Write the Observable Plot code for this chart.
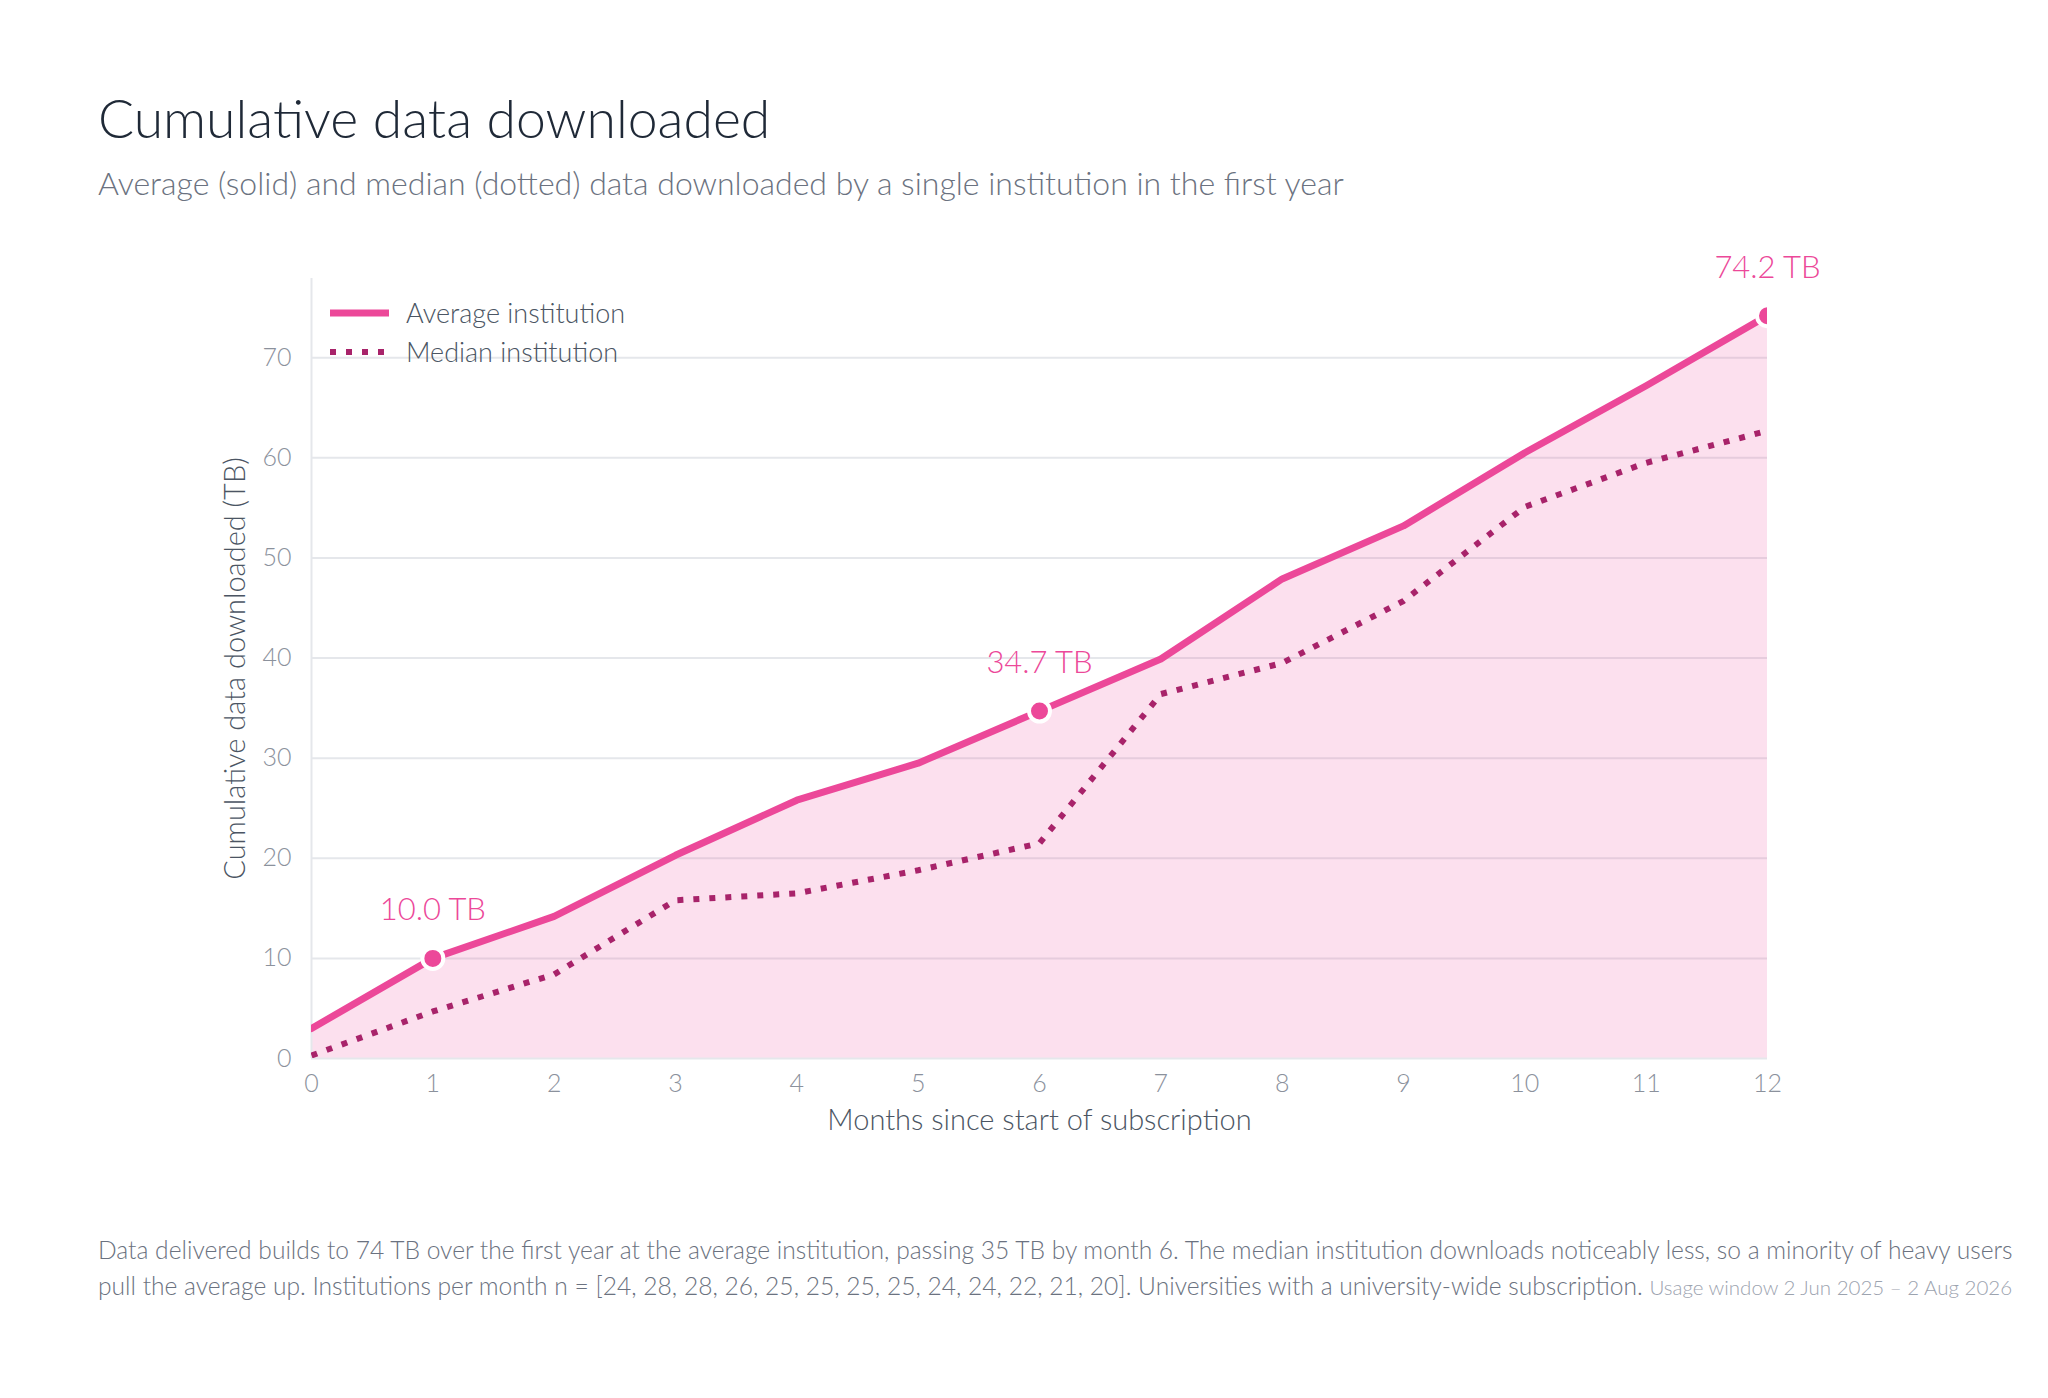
<!DOCTYPE html>
<html>
<head>
<meta charset="utf-8">
<script src="https://cdn.jsdelivr.net/npm/d3@7"></script>
<script src="https://cdn.jsdelivr.net/npm/@observablehq/plot@0.6"></script>
<style>
  html, body { margin: 0; padding: 0; background: #ffffff; }
  body { width: 2048px; height: 1398px; position: relative; overflow: hidden; font-family: Lato, Inter, "Noto Sans", sans-serif; font-weight: 300; }
  .abs { position: absolute; white-space: nowrap; }
  #title { left: 98px; top: 87px; font-size: 53.5px; line-height: 60px; color: #1f2937; }
  #subtitle { left: 98px; top: 166px; font-size: 32px; line-height: 34px; color: #6b7280; }
  #chart { left: 0; top: 230px; }
  #legend { left: 330px; top: 293px; font-size: 27px; color: #4b5563; }
  .lg { display: flex; align-items: center; height: 39px; }
  .lg svg { margin-right: 17px; }
  #caption { left: 98px; top: 1232px; font-size: 24.6px; line-height: 36px; color: #6b7280; }
  #caption .small { font-size: 20.5px; color: #9ca3af; }
</style>
</head>
<body>
<div id="title" class="abs">Cumulative data downloaded</div>
<div id="subtitle" class="abs">Average (solid) and median (dotted) data downloaded by a single institution in the first year</div>
<div id="chart" class="abs"></div>
<div id="legend" class="abs"></div>
<div id="caption" class="abs">Data delivered builds to 74 TB over the first year at the average institution, passing 35 TB by month 6. The median institution downloads noticeably less, so a minority of heavy users<br>pull the average up. Institutions per month n = [24, 28, 28, 26, 25, 25, 25, 25, 24, 24, 22, 21, 20]. Universities with a university-wide subscription. <span class="small">Usage window 2 Jun 2025 – 2 Aug 2026</span></div>
<script>
// ---- data ----
const months = [0, 1, 2, 3, 4, 5, 6, 7, 8, 9, 10, 11, 12];
const averageTB = [3.0, 10.0, 14.2, 20.3, 25.8, 29.5, 34.7, 39.9, 47.9, 53.2, 60.5, 67.2, 74.2];
const medianTB = [0.3, 4.7, 8.4, 15.8, 16.5, 18.8, 21.5, 36.4, 39.5, 45.7, 55.1, 59.5, 62.7];
const highlightMonths = [1, 6, 12];
const yTicks = [0, 10, 20, 30, 40, 50, 60, 70];
const seriesNames = ["Average institution", "Median institution"];

const avgColor = "#ec4899";
const medColor = "#a8236a";
const font = "Lato, Inter, 'Noto Sans', sans-serif";

const avgData = months.map((m, i) => ({month: m, value: averageTB[i]}));
const medData = months.map((m, i) => ({month: m, value: medianTB[i]}));
const hiData = avgData.filter(d => highlightMonths.includes(d.month));

const chart = Plot.plot({
  width: 2048,
  height: 920,
  marginLeft: 311,
  marginRight: 281,
  marginTop: 48,
  marginBottom: 92,
  style: {fontFamily: font, fontWeight: 300, background: "transparent"},
  x: {domain: [0, 12]},
  y: {domain: [0, d3.max(averageTB) * 1.05]},
  marks: [
    Plot.gridY(yTicks.filter(t => t > 0), {stroke: "#e5e7eb", strokeOpacity: 1, strokeWidth: 2}),
    Plot.areaY(avgData, {x: "month", y: "value", fill: avgColor, fillOpacity: 0.17}),
    Plot.ruleY([0], {stroke: "#e5e7eb", strokeWidth: 2}),
    Plot.ruleX([0], {stroke: "#e5e7eb", strokeWidth: 2}),
    Plot.axisY({ticks: yTicks, tickSize: 0, tickPadding: 20, fontSize: 25, color: "#8b919c", label: null}),
    Plot.axisX({ticks: months, tickSize: 0, tickPadding: 16, fontSize: 25, color: "#8b919c", label: null}),
    Plot.line(medData, {x: "month", y: "value", stroke: medColor, strokeWidth: 6, strokeDasharray: "6,10", strokeLinecap: "butt", clip: "frame"}),
    Plot.line(avgData, {x: "month", y: "value", stroke: avgColor, strokeWidth: 7, clip: "frame"}),
    Plot.dot(hiData, {x: "month", y: "value", r: 10.5, fill: avgColor, stroke: "white", strokeWidth: 4, clip: "frame"}),
    Plot.text(hiData, {x: "month", y: "value", text: d => d.value.toFixed(1) + " TB", dy: -48, fill: avgColor, fontSize: 31, fontWeight: 300}),
    Plot.text(["Months since start of subscription"], {frameAnchor: "bottom", dy: 71, fontSize: 29, fill: "#4b5563", fontWeight: 300}),
    Plot.text(["Cumulative data downloaded (TB)"], {frameAnchor: "left", textAnchor: "middle", dx: -76, rotate: -90, fontSize: 29, fill: "#4b5563", fontWeight: 300})
  ]
});
document.getElementById("chart").appendChild(chart);

// legend
const legend = document.getElementById("legend");
seriesNames.forEach((name, i) => {
  const row = document.createElement("div");
  row.className = "lg";
  const dash = i === 0 ? "" : `stroke-dasharray="6,10"`;
  const col = i === 0 ? avgColor : medColor;
  const w = i === 0 ? 7 : 6;
  row.innerHTML = `<svg width="59" height="12"><line x1="0" x2="59" y1="6" y2="6" stroke="${col}" stroke-width="${w}" ${dash}></line></svg><span>${name}</span>`;
  legend.appendChild(row);
});
</script>
</body>
</html>
